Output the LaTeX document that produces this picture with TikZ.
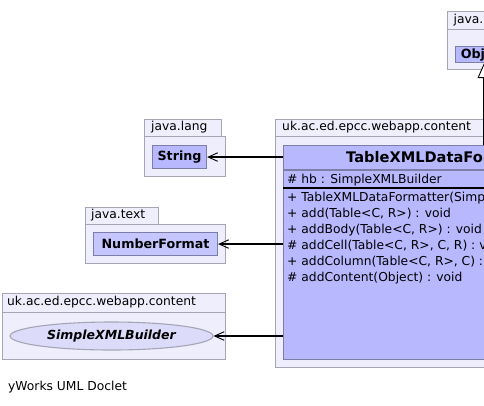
\documentclass[tikz,border=0pt]{standalone}
\usepackage{fontspec}
\setmainfont{DejaVu Sans}
\usetikzlibrary{arrows.meta,shapes.geometric}
\definecolor{pkgfill}{RGB}{238,238,252}
\definecolor{pkgdraw}{RGB}{165,165,182}
\definecolor{clsfill}{RGB}{184,184,255}
\definecolor{clsdraw}{RGB}{125,125,170}
\definecolor{nffill}{RGB}{198,198,255}
\definecolor{ellfill}{RGB}{220,220,250}
\tikzset{
  pkgbox/.style={draw=pkgdraw, fill=pkgfill, line width=1.2pt, inner sep=0pt, anchor=north west},
  pkglabel/.style={font=\fontsize{12.3}{14}\selectfont, anchor=west, inner sep=0pt},
  smallcls/.style={draw=clsdraw, fill=clsfill, line width=1.1pt, inner sep=0pt, anchor=north west, font=\bfseries\fontsize{12.7}{14}\selectfont},
  bigcls/.style={draw=clsdraw, fill=clsfill, line width=1.1pt, inner sep=0pt, anchor=north west},
  member/.style={font=\fontsize{12.3}{14}\selectfont, anchor=west, inner sep=0pt},
  dep/.style={line width=1.2pt, -{Straight Barb[length=9.5pt,width=8.5pt,line width=0.9pt]}},
  inh/.style={line width=1.2pt, -{Triangle[length=15pt,width=13pt,fill=white,line width=0.9pt]}},
}
\begin{document}
\begin{tikzpicture}[x=1pt,y=-1pt]
\useasboundingbox (0,0) rectangle (484,405);
\clip (0,0) rectangle (484,405);

% java.lang (top right)
\node[pkgbox, minimum width=73, minimum height=18] (oltab) at (447,11) {};
\node[pkgbox, minimum width=83, minimum height=40] (olbody) at (447,29) {};
\node[pkglabel] (ollab) at (453.5,20) {java.lang};
\node[smallcls, minimum width=57, minimum height=16] (obj) at (455,46) {Object};

% java.lang (String)
\node[pkgbox, minimum width=77, minimum height=17] (sltab) at (144,119) {};
\node[pkgbox, minimum width=81, minimum height=40] (slbody) at (144,136) {};
\node[pkglabel] (sllab) at (151,127.5) {java.lang};
\node[smallcls, minimum width=54, minimum height=23] (str) at (152,145) {String};

% java.text
\node[pkgbox, minimum width=73, minimum height=17] (jttab) at (85,207) {};
\node[pkgbox, minimum width=140, minimum height=39] (jtbody) at (85,224) {};
\node[pkglabel] (jtlab) at (91,215.5) {java.text};
\node[smallcls, fill=nffill, minimum width=124, minimum height=23] (nf) at (93,232) {NumberFormat};

% uk.ac.ed.epcc.webapp.content (left)
\node[pkgbox, minimum width=223, minimum height=19] (lctab) at (2,293) {};
\node[pkgbox, minimum width=223, minimum height=47] (lcbody) at (2,312) {};
\node[pkglabel] (lclab) at (7,302.5) {uk.ac.ed.epcc.webapp.content};
\node[draw=pkgdraw, fill=ellfill, line width=1.1pt, ellipse, inner sep=0pt,
      minimum width=203, minimum height=28,
      font=\bfseries\itshape\fontsize{12.5}{14}\selectfont] (sxb) at (111.5,336) {SimpleXMLBuilder};

% uk.ac.ed.epcc.webapp.content (right)
\node[pkgbox, minimum width=300, minimum height=17] (rctab) at (275,119) {};
\node[pkgbox, minimum width=365, minimum height=231] (rcbody) at (275,136) {};
\node[pkglabel] (rclab) at (282,127.5) {uk.ac.ed.epcc.webapp.content};

\node[bigcls, minimum width=348, minimum height=214] (cls) at (283,145) {};
\node[font=\bfseries\fontsize{14.6}{17}\selectfont, anchor=west, inner sep=0pt] (title) at (346,157.5) {TableXMLDataFormatter};
\draw[clsdraw, line width=1.1pt] (283,170) -- (631,170);
\draw[black, line width=2pt] (283,188) -- (631,188);
\node[member] (m0) at (287,180.5) {\# hb : SimpleXMLBuilder};
\node[member] (m1) at (287,198) {+ TableXMLDataFormatter(SimpleXMLBuilder, NumberFormat)};
\node[member] (m2) at (287,214) {+ add(Table<C, R>) : void};
\node[member] (m3) at (287,230) {+ addBody(Table<C, R>) : void};
\node[member] (m4) at (287,246) {\# addCell(Table<C, R>, C, R) : void};
\node[member] (m5) at (287,262) {+ addColumn(Table<C, R>, C) : void};
\node[member] (m6) at (287,278) {\# addContent(Object) : void};

% connectors
\draw[dep] (cls.west |- str.east) -- (str.east);
\draw[dep] (cls.west |- nf.east) -- (nf.east);
\draw[dep] (cls.west |- sxb.east) -- (sxb.east);
\draw[inh] (cls.north -| obj.south) -- (obj.south);

\node[member] (yw) at (8,387) {yWorks UML Doclet};
\end{tikzpicture}
\end{document}
